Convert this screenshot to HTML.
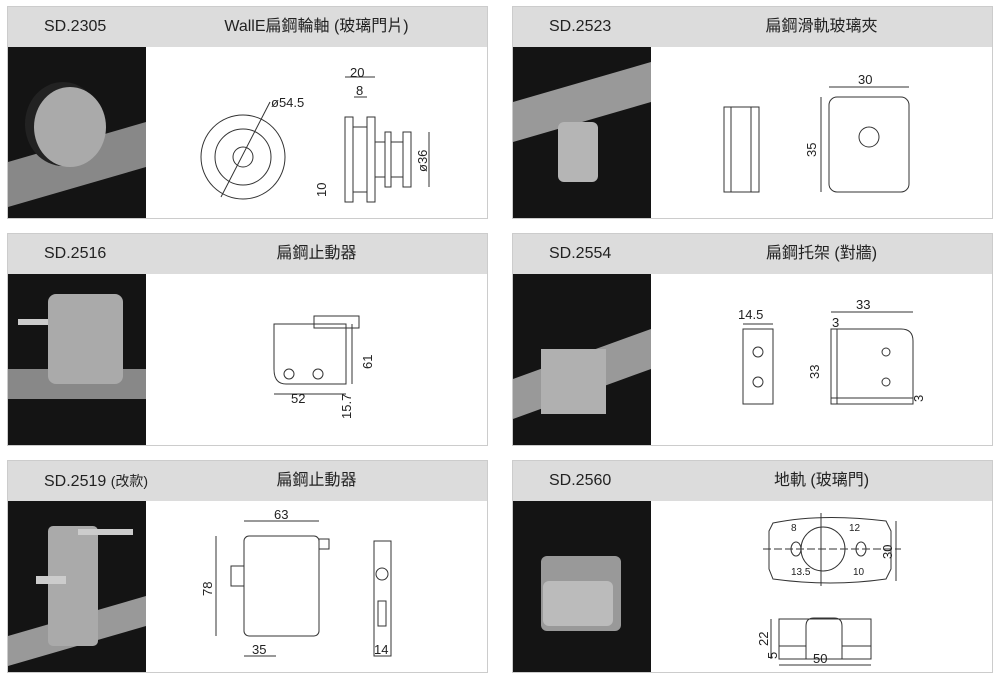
<!DOCTYPE html>
<html><head><meta charset="utf-8"><style>
body{margin:0;width:1000px;height:683px;background:#fff;position:relative;overflow:hidden;font-family:"Liberation Sans","Noto Sans CJK TC",sans-serif}
.p{position:absolute;width:481px;height:213px;border:1px solid #ccc;box-sizing:border-box;background:#fff}
.h{position:absolute;left:0;top:0;right:0;height:40px;background:#dcdcdc;font-size:16px;color:#222;line-height:40px}
.h .c{position:absolute;left:36px;top:0;height:40px}
.h .t{position:absolute;left:138px;right:0;top:0;height:40px;text-align:center}
.h small{font-size:14px}
.ph{position:absolute;left:0;top:40px;width:138px;bottom:0;background:#141414;overflow:hidden}
.d{position:absolute;left:138px;top:40px;right:0;bottom:0;overflow:hidden}
svg text{font-family:"Liberation Sans",sans-serif;font-size:13px;fill:#222}
</style></head><body>

<div class="p" style="left:7px;top:6px">
<div class="h"><span class="c">SD.2305</span><span class="t">WallE扁鋼輪軸 (玻璃門片)</span></div>
<div class="ph"><svg width="138" height="173"><polygon points="0,115 138,75 138,120 0,160" fill="#888"/><ellipse cx="55" cy="77" rx="38" ry="42" fill="#222"/><ellipse cx="62" cy="80" rx="36" ry="40" fill="#aaa"/></svg></div>
<div class="d"><svg width="343" height="173" fill="none" stroke="#333" stroke-width="1">
<circle cx="97" cy="110" r="42"/><circle cx="97" cy="110" r="28"/><circle cx="97" cy="110" r="10"/>
<line x1="75" y1="150" x2="124" y2="55"/><text x="125" y="60" stroke="none">ø54.5</text>
<rect x="199" y="70" width="8" height="85"/><rect x="207" y="80" width="14" height="65"/><rect x="221" y="70" width="8" height="85"/>
<rect x="229" y="95" width="10" height="35"/><rect x="239" y="85" width="6" height="55"/><rect x="245" y="95" width="12" height="35"/><rect x="257" y="85" width="8" height="55"/>
<line x1="199" y1="30" x2="229" y2="30"/><line x1="208" y1="50" x2="221" y2="50"/><text x="204" y="30" stroke="none">20</text><text x="210" y="48" stroke="none">8</text>
<text x="0" y="0" stroke="none" transform="translate(281,125) rotate(-90)">ø36</text><line x1="283" y1="85" x2="283" y2="140"/>
<text x="0" y="0" stroke="none" transform="translate(180,150) rotate(-90)">10</text>
</svg></div></div>

<div class="p" style="left:512px;top:6px">
<div class="h"><span class="c">SD.2523</span><span class="t">扁鋼滑軌玻璃夾</span></div>
<div class="ph"><svg width="138" height="173"><polygon points="0,55 138,15 138,55 0,95" fill="#999"/><rect x="45" y="75" width="40" height="60" rx="6" fill="#b5b5b5"/></svg></div>
<div class="d"><svg width="342" height="173" fill="none" stroke="#333">
<rect x="73" y="60" width="35" height="85"/><line x1="80" y1="60" x2="80" y2="145"/><line x1="100" y1="60" x2="100" y2="145"/>
<rect x="178" y="50" width="80" height="95" rx="8"/><circle cx="218" cy="90" r="10"/><line x1="178" y1="40" x2="258" y2="40"/><text x="207" y="37" stroke="none">30</text>
<line x1="170" y1="50" x2="170" y2="145"/><text stroke="none" transform="translate(165,110) rotate(-90)">35</text>
</svg></div></div>

<div class="p" style="left:7px;top:233px">
<div class="h"><span class="c">SD.2516</span><span class="t">扁鋼止動器</span></div>
<div class="ph"><svg width="138" height="173"><rect x="0" y="95" width="138" height="30" fill="#888"/><rect x="40" y="20" width="75" height="90" rx="8" fill="#aaa"/><rect x="10" y="45" width="30" height="6" fill="#ccc"/></svg></div>
<div class="d"><svg width="343" height="173" fill="none" stroke="#333">
<path d="M128 50 H200 V110 H140 Q128 110 128 95 Z"/><rect x="168" y="42" width="45" height="12"/><circle cx="143" cy="100" r="5"/><circle cx="172" cy="100" r="5"/>
<line x1="128" y1="120" x2="200" y2="120"/><text x="145" y="129" stroke="none">52</text>
<line x1="206" y1="50" x2="206" y2="110"/><text stroke="none" transform="translate(226,95) rotate(-90)">61</text>
<text stroke="none" transform="translate(205,145) rotate(-90)">15.7</text>
</svg></div></div>

<div class="p" style="left:512px;top:233px">
<div class="h"><span class="c">SD.2554</span><span class="t">扁鋼托架 (對牆)</span></div>
<div class="ph"><svg width="138" height="173"><polygon points="0,105 138,55 138,95 0,145" fill="#999"/><rect x="28" y="75" width="65" height="65" fill="#b0b0b0"/></svg></div>
<div class="d"><svg width="342" height="173" fill="none" stroke="#333">
<rect x="92" y="55" width="30" height="75"/><circle cx="107" cy="78" r="5"/><circle cx="107" cy="108" r="5"/><text x="87" y="45" stroke="none">14.5</text><line x1="92" y1="50" x2="122" y2="50"/>
<path d="M180 55 H250 Q262 55 262 67 V130 H180 Z"/><line x1="186" y1="55" x2="186" y2="130"/><line x1="180" y1="124" x2="262" y2="124"/><circle cx="235" cy="78" r="4"/><circle cx="235" cy="108" r="4"/>
<line x1="180" y1="38" x2="262" y2="38"/><text x="205" y="35" stroke="none">33</text><text x="181" y="53" stroke="none">3</text>
<text stroke="none" transform="translate(168,105) rotate(-90)">33</text><text stroke="none" transform="translate(272,128) rotate(-90)">3</text>
</svg></div></div>

<div class="p" style="left:7px;top:460px">
<div class="h"><span class="c">SD.2519 <small>(改款)</small></span><span class="t">扁鋼止動器</span></div>
<div class="ph"><svg width="138" height="173"><polygon points="0,135 138,95 138,125 0,165" fill="#999"/><rect x="40" y="25" width="50" height="120" rx="5" fill="#aaa"/><rect x="70" y="28" width="55" height="6" fill="#ccc"/><rect x="28" y="75" width="30" height="8" fill="#ccc"/></svg></div>
<div class="d"><svg width="343" height="173" fill="none" stroke="#333">
<rect x="98" y="35" width="75" height="100" rx="5"/><rect x="173" y="38" width="10" height="10"/><rect x="85" y="65" width="13" height="20"/>
<line x1="98" y1="20" x2="173" y2="20"/><text x="128" y="18" stroke="none">63</text><line x1="70" y1="35" x2="70" y2="135"/><text stroke="none" transform="translate(66,95) rotate(-90)">78</text>
<line x1="98" y1="155" x2="130" y2="155"/><text x="106" y="153" stroke="none">35</text>
<rect x="228" y="40" width="17" height="115"/><circle cx="236" cy="73" r="6"/><rect x="232" y="100" width="8" height="25"/><text x="228" y="153" stroke="none">14</text>
</svg></div></div>

<div class="p" style="left:512px;top:460px">
<div class="h"><span class="c">SD.2560</span><span class="t">地軌 (玻璃門)</span></div>
<div class="ph"><svg width="138" height="173"><rect x="28" y="55" width="80" height="75" rx="6" fill="#999"/><rect x="30" y="80" width="70" height="45" rx="6" fill="#bbb"/></svg></div>
<div class="d"><svg width="342" height="173" fill="none" stroke="#333">
<path d="M122 22 Q170 12 235 20 L240 30 V68 L235 78 Q180 86 122 78 L118 68 V30 Z"/><circle cx="172" cy="48" r="22"/><ellipse cx="145" cy="48" rx="5" ry="7"/><ellipse cx="210" cy="48" rx="5" ry="7"/>
<line x1="112" y1="48" x2="250" y2="48" stroke-dasharray="8 3"/><line x1="170" y1="12" x2="170" y2="85"/><line x1="245" y1="20" x2="245" y2="80"/><text stroke="none" transform="translate(241,58) rotate(-90)">30</text>
<text x="140" y="30" stroke="none" style="font-size:10px">8</text><text x="198" y="30" stroke="none" style="font-size:10px">12</text><text x="140" y="74" stroke="none" style="font-size:10px">13.5</text><text x="202" y="74" stroke="none" style="font-size:10px">10</text>
<rect x="128" y="118" width="92" height="40"/><path d="M155 158 V125 Q155 117 163 117 H183 Q191 117 191 125 V158"/><line x1="128" y1="145" x2="155" y2="145"/><line x1="191" y1="145" x2="220" y2="145"/>
<line x1="128" y1="164" x2="220" y2="164"/><text x="162" y="162" stroke="none">50</text>
<line x1="120" y1="118" x2="120" y2="158"/><text stroke="none" transform="translate(117,145) rotate(-90)">22</text><text stroke="none" transform="translate(126,158) rotate(-90)">5</text>
</svg></div></div>

</body></html>
